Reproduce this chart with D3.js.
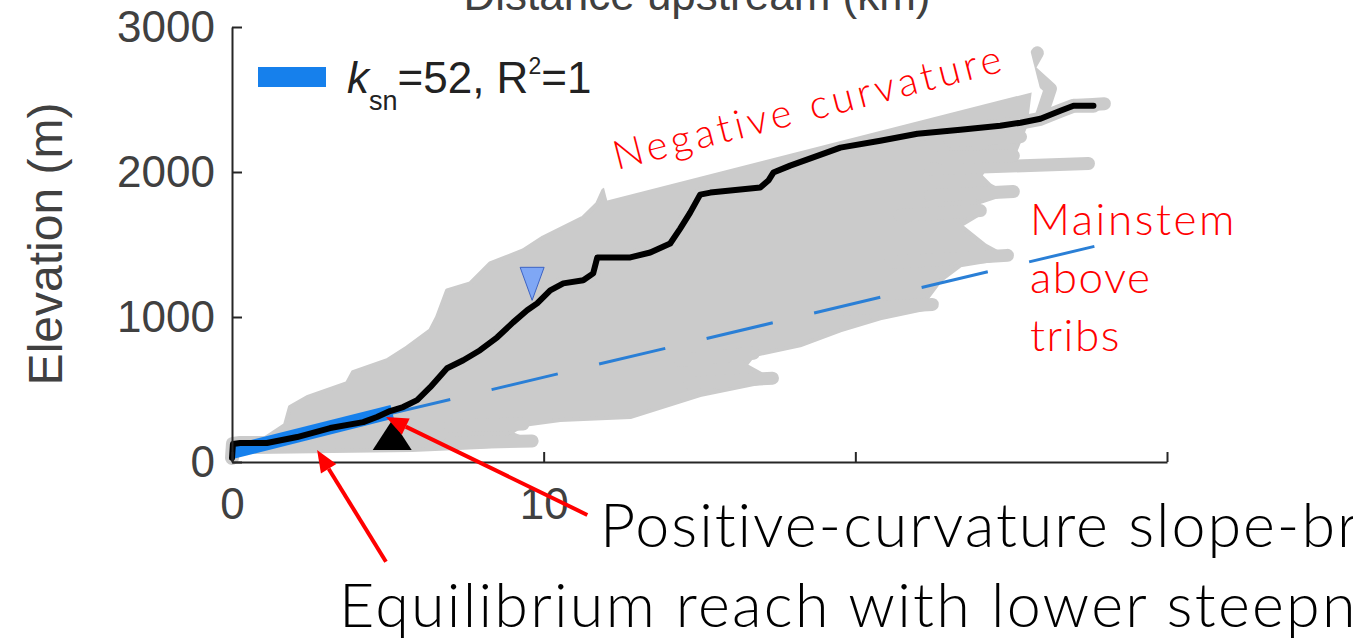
<!DOCTYPE html>
<html>
<head>
<meta charset="utf-8">
<script src="https://cdn.jsdelivr.net/npm/d3@7"></script>
<style>
  html, body { margin: 0; padding: 0; background: #fff; }
  svg { display: block; }
</style>
</head>
<body>
<svg id="chart" width="1353" height="642"></svg>
<script>
// ---- Mainstem long profile (distance upstream km, elevation m) ----
const mainDist = [0, 0.03, 0.26, 1.12, 2.09, 3.15, 4.21, 4.65, 5.07, 5.49, 5.94, 6.36, 6.90, 7.42, 7.96,
  8.51, 9.02, 9.47, 9.79, 10.21, 10.63, 11.27, 11.59, 11.72, 12.78, 13.42, 14.06, 14.38, 14.70, 15.02,
  15.35, 16.95, 17.21, 17.37, 17.91, 19.52, 20.80, 21.99, 23.37, 24.65, 25.30, 25.94, 26.58, 27.00, 27.64];
const mainElev = [28, 124, 131, 131, 172, 234, 275, 310, 351, 379, 427, 516, 647, 702, 771,
  860, 963, 1046, 1094, 1184, 1232, 1253, 1301, 1411, 1411, 1445, 1507, 1610, 1720, 1844,
  1858, 1893, 1941, 1996, 2044, 2168, 2216, 2264, 2292, 2319, 2340, 2367, 2422, 2457, 2457];

// ---- Outline of the dense tributary-profile cloud ----
const cloudDist = [0.42, 0.96, 1.70, 1.86, 2.41, 3.69, 3.88, 4.98, 5.62, 6.36, 6.58, 6.90, 7.64, 8.28, 9.34,
  9.98, 11.27, 11.72, 11.91, 12.46, 15.02, 18.23, 21.44, 24.65, 25.62, 25.46, 25.14, 24.33, 24.01, 24.33,
  24.82, 23.85, 24.01, 23.37, 24.17, 24.88, 23.37, 22.73, 22.25, 22.47, 20.80, 19.52, 18.23, 16.73, 16.47,
  17.34, 15.02, 12.78, 10.53, 9.34, 8.92, 9.63, 7.96, 5.78];
const cloudElev = [69, 151, 255, 379, 447, 544, 619, 702, 791, 908, 998, 1184, 1232, 1370, 1459,
  1548, 1686, 1782, 1872, 1941, 2044, 2216, 2388, 2560, 2594, 2319, 2147, 2078, 1975, 1906,
  1851, 1782, 1714, 1631, 1493, 1411, 1356, 1253, 1115, 1067, 991, 908, 805, 736, 668,
  564, 461, 310, 289, 255, 200, 138, 103, 83];

// ---- Individual tributary profiles reaching beyond the cloud ----
const tribDist = [
  [22.41, 27.48], [23.05, 25.30], [22.73, 25.07], [22.41, 25.07], [21.44, 24.01],
  [21.12, 24.88], [18.88, 22.47], [14.38, 16.73], [14.70, 17.34], [7.00, 9.34],
  [7.00, 9.63], [27.00, 27.99], [25.94, 26.26, 25.55, 25.84]
];
const tribElev = [
  [2023, 2058], [2216, 2243], [2099, 2113], [1837, 1865], [1700, 1734],
  [1376, 1425], [1046, 1087], [702, 750], [544, 578], [248, 262],
  [131, 145], [2457, 2471], [2367, 2574, 2711, 2822]
];

// ---- ksn regression on the lower reach and its upstream projection ----
const fitDist = [0, 5.14];
const fitElev = [69, 347];
const projDist = [4.88, 27.67];
const projElev = [323, 1487];

// ---- Knickpoint markers ----
const breakPoint = [5.14, 83];    // base of the slope-break marker
const blueMarker = [9.63, 1115];  // tip of the blue marker

// ---- Axis ticks (only the first two are labelled) ----
const xTicks = [0, 10, 20, 30];
const xTickLabels = ['0', '10', '', ''];
const yTicks = [0, 1000, 2000, 3000];
const yTickLabels = ['0', '1000', '2000', '3000'];

// ---- Annotation arrows: [tail, tip] in data units ----
const arrowTails = [[4.94, -688], [11.40, -365]];
const arrowTips = [[2.73, 83], [4.94, 310]];

const svg = d3.select('#chart');
const x = d3.scaleLinear().domain([0, 30]).range([232, 1167]);
const y = d3.scaleLinear().domain([0, 3000]).range([462, 27]);
const zip = (a, b) => a.map((v, i) => [v, b[i]]);
const line = d3.line().x(d => x(d[0])).y(d => y(d[1]));

const GRAY = '#cbcbcb';
const BLUE = '#1680ec';
const RED = '#ff0000';
const TXT = '#404040';
const AXIS = '#262626';
const ANNO_FONT = 'Lato, "Open Sans", sans-serif';
const AX_FONT = '"Liberation Sans", Arial, sans-serif';

// tributary cloud
svg.append('path')
  .attr('d', line(zip(cloudDist, cloudElev)) + 'Z')
  .attr('fill', GRAY).attr('stroke', GRAY).attr('stroke-width', 4).attr('stroke-linejoin', 'round');

// mainstem drawn among the gray profiles
svg.append('path')
  .attr('d', line(zip(mainDist, mainElev)))
  .attr('fill', 'none').attr('stroke', GRAY).attr('stroke-width', 14)
  .attr('stroke-linecap', 'round').attr('stroke-linejoin', 'round');

tribDist.forEach((d, i) => {
  svg.append('path')
    .attr('d', line(zip(d, tribElev[i])))
    .attr('fill', 'none').attr('stroke', GRAY).attr('stroke-width', 13)
    .attr('stroke-linecap', 'round').attr('stroke-linejoin', 'round');
});

// white label band behind "Negative curvature"
const negAnchor = [12.04, 1803];
const ANG = -14.3;
svg.append('rect')
  .attr('transform', `translate(${x(negAnchor[0])},${y(negAnchor[1])}) rotate(${ANG})`)
  .attr('x', 0).attr('y', -70).attr('width', 447).attr('height', 70)
  .attr('fill', '#fff');

// regression line and projection
svg.append('path')
  .attr('d', line(zip(fitDist, fitElev)))
  .attr('fill', 'none').attr('stroke', BLUE).attr('stroke-width', 14);
svg.append('path')
  .attr('d', line(zip(projDist, projElev)))
  .attr('fill', 'none').attr('stroke', '#2a7fd6').attr('stroke-width', 3)
  .attr('stroke-dasharray', '68,42.5');

// mainstem
svg.append('path')
  .attr('d', line(zip(mainDist, mainElev)))
  .attr('fill', 'none').attr('stroke', '#000').attr('stroke-width', 6)
  .attr('stroke-linejoin', 'round').attr('stroke-linecap', 'round');

// slope-break marker (black) and blue marker
{
  const bx = x(breakPoint[0]), by = y(breakPoint[1]);
  svg.append('path')
    .attr('d', `M${bx - 19.5},${by}L${bx + 19.5},${by}L${bx},${by - 30}Z`)
    .attr('fill', '#000');
  const tx = x(blueMarker[0]), ty = y(blueMarker[1]);
  svg.append('path')
    .attr('d', `M${tx - 12},${ty - 33}L${tx + 12},${ty - 33}L${tx},${ty}Z`)
    .attr('fill', '#7fa7f5').attr('stroke', '#3d63c4').attr('stroke-width', 1);
}

// axes
const yAxis = svg.append('g')
  .attr('transform', `translate(${x(0)},0)`)
  .call(d3.axisLeft(y).tickValues(yTicks).tickSizeInner(-10).tickSizeOuter(0).tickPadding(17)
    .tickFormat((d, i) => yTickLabels[i]));
const xAxis = svg.append('g')
  .attr('transform', `translate(0,${y(0)})`)
  .call(d3.axisBottom(x).tickValues(xTicks).tickSizeInner(-10).tickSizeOuter(0).tickPadding(26)
    .tickFormat((d, i) => xTickLabels[i]));
[yAxis, xAxis].forEach(g => {
  g.selectAll('path, line').attr('stroke', AXIS).attr('stroke-width', 2);
  g.selectAll('text').attr('fill', TXT).style('font-family', AX_FONT).style('font-size', '44px');
});

// axis titles
svg.append('text')
  .attr('transform', 'translate(62,244) rotate(-90)')
  .attr('text-anchor', 'middle')
  .style('font-family', AX_FONT).style('font-size', '48px').attr('fill', TXT)
  .text('Elevation (m)');
svg.append('text')
  .attr('x', 697).attr('y', 10).attr('text-anchor', 'middle')
  .style('font-family', AX_FONT).style('font-size', '44px').attr('fill', TXT)
  .text('Distance upstream (km)');

// legend
svg.append('rect').attr('x', 258).attr('y', 67).attr('width', 68).attr('height', 20).attr('fill', BLUE);
{
  const t = svg.append('text').attr('x', 347).attr('y', 93)
    .style('font-family', AX_FONT).style('font-size', '44px').attr('fill', '#222');
  t.append('tspan').style('font-style', 'italic').text('k');
  t.append('tspan').attr('dy', 17).style('font-size', '27px').text('sn');
  t.append('tspan').attr('dy', -17).text('=52, R');
  t.append('tspan').attr('dy', -19).style('font-size', '23px').text('2');
  t.append('tspan').attr('dy', 19).text('=1');
}

// helper: spread a text so a leading substring spans a target width
function spread(sel, probe, target) {
  const tmp = svg.append('text')
    .style('font-family', sel.style('font-family'))
    .style('font-size', sel.style('font-size'))
    .style('font-weight', sel.style('font-weight'))
    .text(probe);
  const w = tmp.node().getComputedTextLength();
  tmp.remove();
  sel.style('letter-spacing', ((target - w) / probe.length) + 'px');
}

// annotation: negative curvature
{
  const t = svg.append('text')
    .attr('transform', `translate(617,170) rotate(${ANG})`)
    .style('font-family', ANNO_FONT).style('font-size', '40px').style('font-weight', 300).attr('fill', RED)
    .text('Negative curvature');
  spread(t, 'Negative curvature', 404);
}
// annotation: mainstem above tribs
['Mainstem', 'above', 'tribs'].forEach((s, i) => {
  const t = svg.append('text').attr('x', 1030).attr('y', 235 + i * 58)
    .style('font-family', ANNO_FONT).style('font-size', '44px').style('font-weight', 300)
    .attr('fill', RED).text(s);
  if (i === 0) spread(t, 'Mainstem', 207);
  else t.style('letter-spacing', '1.5px');
});

// arrows
arrowTails.forEach((tl, i) => {
  const x0 = x(tl[0]), y0 = y(tl[1]);
  const x1 = x(arrowTips[i][0]), y1 = y(arrowTips[i][1]);
  const a = Math.atan2(y1 - y0, x1 - x0);
  const L = 22, hw = 9;
  const bxp = x1 - L * Math.cos(a), byp = y1 - L * Math.sin(a);
  svg.append('line').attr('x1', x0).attr('y1', y0).attr('x2', bxp).attr('y2', byp)
    .attr('stroke', RED).attr('stroke-width', 4);
  svg.append('path')
    .attr('d', `M${x1},${y1}L${bxp + hw * Math.sin(a)},${byp - hw * Math.cos(a)}L${bxp - hw * Math.sin(a)},${byp + hw * Math.cos(a)}Z`)
    .attr('fill', RED);
});

// lower annotations
{
  const t1 = svg.append('text').attr('x', 600).attr('y', 547)
    .style('font-family', ANNO_FONT).style('font-size', '61px').style('font-weight', 300).attr('fill', '#000')
    .text('Positive-curvature slope-break');
  spread(t1, 'Positive-curvature slope-b', 738);
  const t2 = svg.append('text').attr('x', 339).attr('y', 627)
    .style('font-family', ANNO_FONT).style('font-size', '61px').style('font-weight', 300).attr('fill', '#000')
    .text('Equilibrium reach with lower steepness');
  spread(t2, 'Equilibrium reach with lower steep', 983);
}
</script>
</body>
</html>
